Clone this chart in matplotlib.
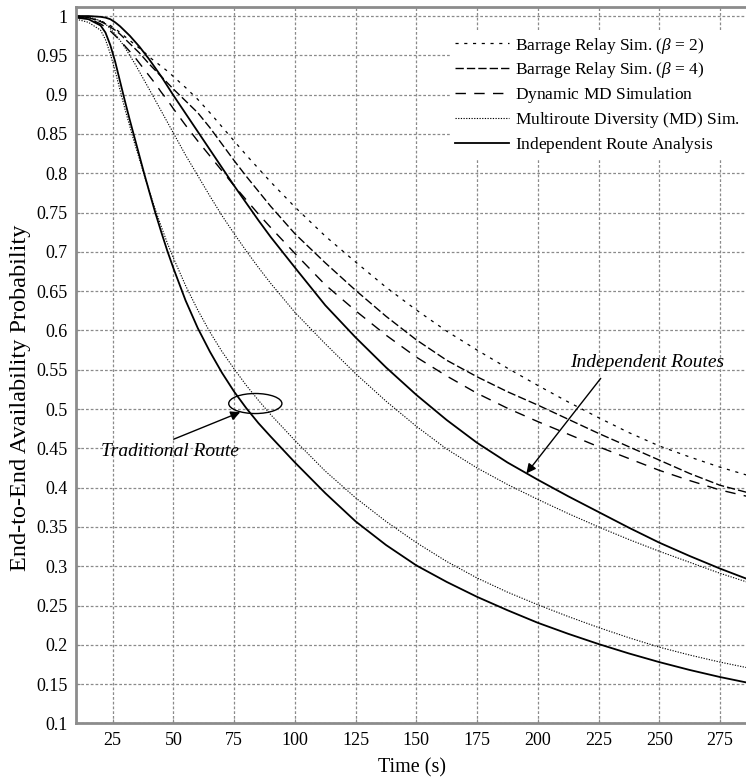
import matplotlib
matplotlib.use("Agg")
import matplotlib.pyplot as plt
from matplotlib.patches import Ellipse

plt.rcParams['font.family'] = ['Liberation Serif', 'DejaVu Serif']
plt.rcParams['mathtext.fontset'] = 'custom'
plt.rcParams['mathtext.rm'] = 'Liberation Serif'
plt.rcParams['mathtext.it'] = 'Liberation Serif:italic'

# ---- data ----
time_s = [10, 15, 20, 22, 24, 26, 28, 30, 32, 34, 36, 38, 40, 42.5, 45, 47.5, 50, 55, 60,
          65, 70, 75, 80, 85, 90, 100, 112.5, 125, 137.5, 150, 162.5, 175, 187.5, 200,
          212.5, 225, 237.5, 250, 262.5, 275, 286]

barrage_b2 = [1.0, 0.998, 0.994, 0.991, 0.988, 0.984, 0.979, 0.974, 0.969, 0.964, 0.959,
              0.954, 0.948, 0.942, 0.936, 0.930, 0.923, 0.909, 0.894, 0.877, 0.859, 0.841,
              0.823, 0.806, 0.789, 0.757, 0.720, 0.687, 0.655, 0.626, 0.599, 0.575, 0.552,
              0.530, 0.509, 0.489, 0.470, 0.453, 0.439, 0.426, 0.416]

barrage_b4 = [1.0, 0.998, 0.993, 0.990, 0.986, 0.982, 0.977, 0.971, 0.965, 0.959, 0.953,
              0.946, 0.939, 0.931, 0.923, 0.915, 0.907, 0.892, 0.877, 0.858, 0.837, 0.816,
              0.796, 0.777, 0.758, 0.723, 0.686, 0.651, 0.618, 0.588, 0.562, 0.541, 0.522,
              0.505, 0.487, 0.469, 0.452, 0.435, 0.418, 0.403, 0.394]

dynamic_md = [0.999, 0.997, 0.990, 0.986, 0.981, 0.975, 0.969, 0.962, 0.955, 0.948, 0.940,
              0.932, 0.924, 0.914, 0.903, 0.893, 0.882, 0.861, 0.841, 0.822, 0.803, 0.784,
              0.766, 0.748, 0.731, 0.698, 0.658, 0.625, 0.594, 0.566, 0.542, 0.520, 0.501,
              0.484, 0.468, 0.452, 0.437, 0.422, 0.409, 0.397, 0.389]

md_sim_indep = [1.0, 0.999, 0.994, 0.990, 0.984, 0.977, 0.969, 0.960, 0.950, 0.940, 0.929,
                0.918, 0.907, 0.893, 0.879, 0.865, 0.851, 0.823, 0.797, 0.771, 0.746, 0.723,
                0.701, 0.680, 0.660, 0.623, 0.583, 0.545, 0.510, 0.478, 0.449, 0.425, 0.404,
                0.385, 0.367, 0.350, 0.334, 0.319, 0.305, 0.291, 0.280]

analysis_indep = [1.0, 1.0, 0.999, 0.998, 0.996, 0.992, 0.987, 0.981, 0.975, 0.968, 0.961,
                  0.953, 0.945, 0.934, 0.923, 0.911, 0.899, 0.876, 0.853, 0.830, 0.807, 0.784,
                  0.762, 0.740, 0.719, 0.680, 0.632, 0.591, 0.553, 0.518, 0.486, 0.457, 0.432,
                  0.410, 0.389, 0.369, 0.349, 0.330, 0.313, 0.297, 0.284]

md_sim_trad = [0.996, 0.992, 0.982, 0.970, 0.952, 0.930, 0.906, 0.882, 0.860, 0.838, 0.818,
               0.797, 0.778, 0.754, 0.732, 0.711, 0.692, 0.657, 0.626, 0.598, 0.573, 0.551,
               0.530, 0.511, 0.493, 0.460, 0.421, 0.387, 0.357, 0.330, 0.306, 0.285, 0.267,
               0.251, 0.236, 0.222, 0.209, 0.197, 0.187, 0.178, 0.171]

analysis_trad = [0.998, 0.996, 0.988, 0.979, 0.963, 0.942, 0.917, 0.892, 0.868, 0.845, 0.822,
                 0.799, 0.777, 0.750, 0.725, 0.701, 0.679, 0.638, 0.603, 0.573, 0.546, 0.522,
                 0.501, 0.482, 0.465, 0.432, 0.393, 0.357, 0.327, 0.301, 0.280, 0.261, 0.244,
                 0.228, 0.214, 0.201, 0.189, 0.178, 0.168, 0.159, 0.152]

strut = r'$\mathregular{\,}$'
labels = [r'Barrage Relay Sim. ($\beta$ = 2)',
          r'Barrage Relay Sim. ($\beta$ = 4)',
          'Dynamic MD Simulation' + strut,
          'Multiroute Diversity (MD) Sim.' + strut,
          'Independent Route Analysis' + strut]

x_ticks = [25, 50, 75, 100, 125, 150, 175, 200, 225, 250, 275]
y_ticks = [0.1, 0.15, 0.2, 0.25, 0.3, 0.35, 0.4, 0.45, 0.5, 0.55, 0.6, 0.65, 0.7, 0.75,
           0.8, 0.85, 0.9, 0.95, 1.0]

# ---- figure ----
W, H = 746, 781
fig = plt.figure(figsize=(W / 100, H / 100), dpi=100)
ax = fig.add_axes([76.3 / W, 57.6 / H, 670.4 / W, 716.0 / H])

grid_col = '#8a8a8a'
ax.grid(True, color=grid_col, linestyle=(0, (2.2, 1.6)), linewidth=0.9)
ax.set_axisbelow(True)

l1, = ax.plot(time_s, barrage_b2, color='black', lw=0.9, dashes=(2.5, 4.5))
l2, = ax.plot(time_s, barrage_b4, color='black', lw=1.0, dashes=(6, 2.2))
l3, = ax.plot(time_s, dynamic_md, color='black', lw=1.0, dashes=(7.5, 6))
l4, = ax.plot(time_s, md_sim_indep, color='black', lw=0.8, dashes=(1.1, 1.3))
ax.plot(time_s, md_sim_trad, color='black', lw=0.8, dashes=(1.1, 1.3))
l5, = ax.plot(time_s, analysis_indep, color='black', lw=1.3)
ax.plot(time_s, analysis_trad, color='black', lw=1.3)

ax.set_xlim(10, 286)
ax.set_ylim(0.1, 1.011)
ax.set_xticks(x_ticks)
ax.set_yticks(y_ticks)
ax.set_xticklabels([str(v) for v in x_ticks])
ax.set_yticklabels(['%g' % v for v in y_ticks])
ax.tick_params(direction='in', length=3, color=grid_col, labelsize=13, pad=6)
for s in ax.spines.values():
    s.set_color('#8c8c8c')
    s.set_linewidth(2.0)

ax.set_xlabel('Time (s)', fontsize=14.5, labelpad=7)
ax.set_ylabel('End-to-End Availability Probability', fontsize=17.5)
ax.yaxis.set_label_coords(-0.068, 0.455)

leg = ax.legend([l1, l2, l3, l4, l5], labels, loc='upper right',
                bbox_to_anchor=(0.997, 0.968), borderaxespad=0, fontsize=12.5,
                frameon=True, fancybox=False, framealpha=1.0, edgecolor='none',
                facecolor='white', handlelength=3.1, handletextpad=0.35,
                labelspacing=0.28, borderpad=0.3)

# annotations
ax.add_patch(Ellipse((83.7, 0.507), 21.9, 0.0255, fill=False, color='black', lw=1.0))
ax.annotate('', xy=(77.5, 0.496), xytext=(50.1, 0.4616),
            arrowprops=dict(arrowstyle='-|>', color='black', lw=1.0,
                            mutation_scale=14, shrinkA=0, shrinkB=0))
ax.text(48.7, 0.4455, 'Traditional Route', style='italic', fontsize=14,
        ha='center', va='center')
ax.annotate('', xy=(195.3, 0.418), xytext=(225.9, 0.539),
            arrowprops=dict(arrowstyle='-|>', color='black', lw=1.0,
                            mutation_scale=14, shrinkA=0, shrinkB=0))
ax.text(244.9, 0.5587, 'Independent Routes', style='italic', fontsize=14,
        ha='center', va='center')

fig.savefig('out.png', dpi=100)
